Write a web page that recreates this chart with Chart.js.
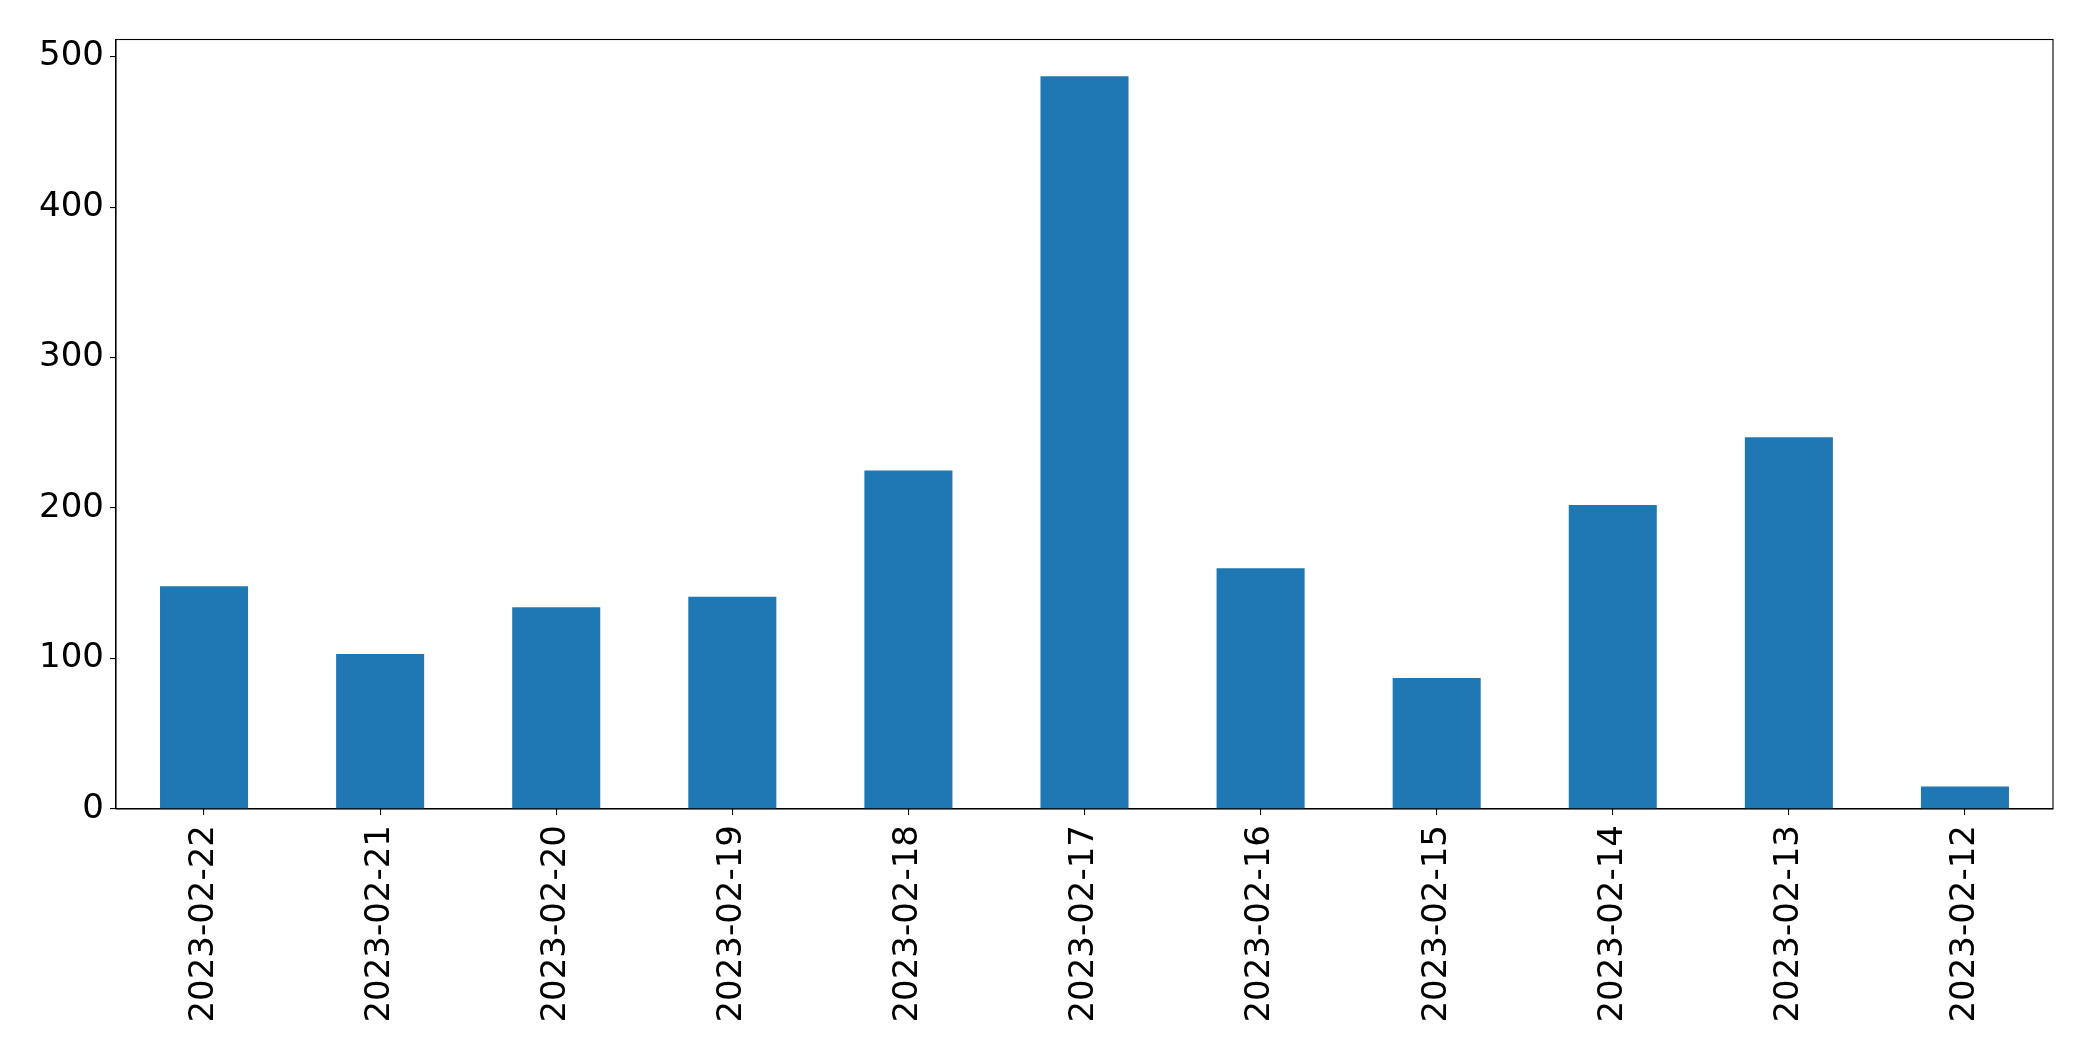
<!DOCTYPE html>
<html>
<head>
<meta charset="utf-8">
<script src="https://cdn.jsdelivr.net/npm/chart.js@4/dist/chart.umd.min.js"></script>
<style>
  html, body { margin: 0; padding: 0; background: #ffffff; }
  canvas { display: block; }
</style>
</head>
<body>
<canvas id="c" width="2093" height="1061"></canvas>
<script>
const categories = ["2023-02-22", "2023-02-21", "2023-02-20", "2023-02-19", "2023-02-18", "2023-02-17", "2023-02-16", "2023-02-15", "2023-02-14", "2023-02-13", "2023-02-12"];
const counts = [148, 103, 134, 141, 225, 487, 160, 87, 202, 247, 15];
const yTickStep = 100;

const yMax = Math.max(...counts) * 1.05;

const framePlugin = {
  id: 'frame',
  afterDraw(chart) {
    const a = chart.chartArea, ctx = chart.ctx;
    ctx.save();
    ctx.strokeStyle = '#000000';
    ctx.lineWidth = 1.1;
    ctx.strokeRect(a.left, a.top, a.right - a.left, a.bottom - a.top);
    ctx.restore();
  }
};

new Chart(document.getElementById('c'), {
  type: 'bar',
  data: {
    labels: categories,
    datasets: [{
      data: counts,
      backgroundColor: '#1f77b4',
      borderWidth: 0,
      categoryPercentage: 1.0,
      barPercentage: 0.5
    }]
  },
  options: {
    responsive: false,
    animation: false,
    devicePixelRatio: 1,
    layout: { padding: { left: 0, top: 39.5, right: 40, bottom: 0 } },
    plugins: { legend: { display: false }, tooltip: { enabled: false } },
    scales: {
      x: {
        type: 'category',
        offset: true,
        grid: { display: true, drawOnChartArea: false, drawTicks: true, tickLength: 6, color: '#000000', lineWidth: 1.1, offset: false },
        border: { display: true, color: '#000000', width: 1.1 },
        ticks: {
          color: '#000000',
          font: { family: 'DejaVu Sans', size: 34 },
          minRotation: 90, maxRotation: 90,
          padding: 10,
          autoSkip: false
        },
        afterFit(scale) { scale.height = 252; }
      },
      y: {
        min: 0,
        max: yMax,
        grid: { display: true, drawOnChartArea: false, drawTicks: true, tickLength: 6, color: '#000000', lineWidth: 1.1 },
        border: { display: true, color: '#000000', width: 1.1 },
        ticks: {
          stepSize: yTickStep,
          includeBounds: false,
          color: '#000000',
          font: { family: 'DejaVu Sans', size: 34 },
          padding: 6
        },
        afterFit(scale) { scale.width = 116; }
      }
    }
  },
  plugins: [framePlugin]
});
</script>
</body>
</html>
